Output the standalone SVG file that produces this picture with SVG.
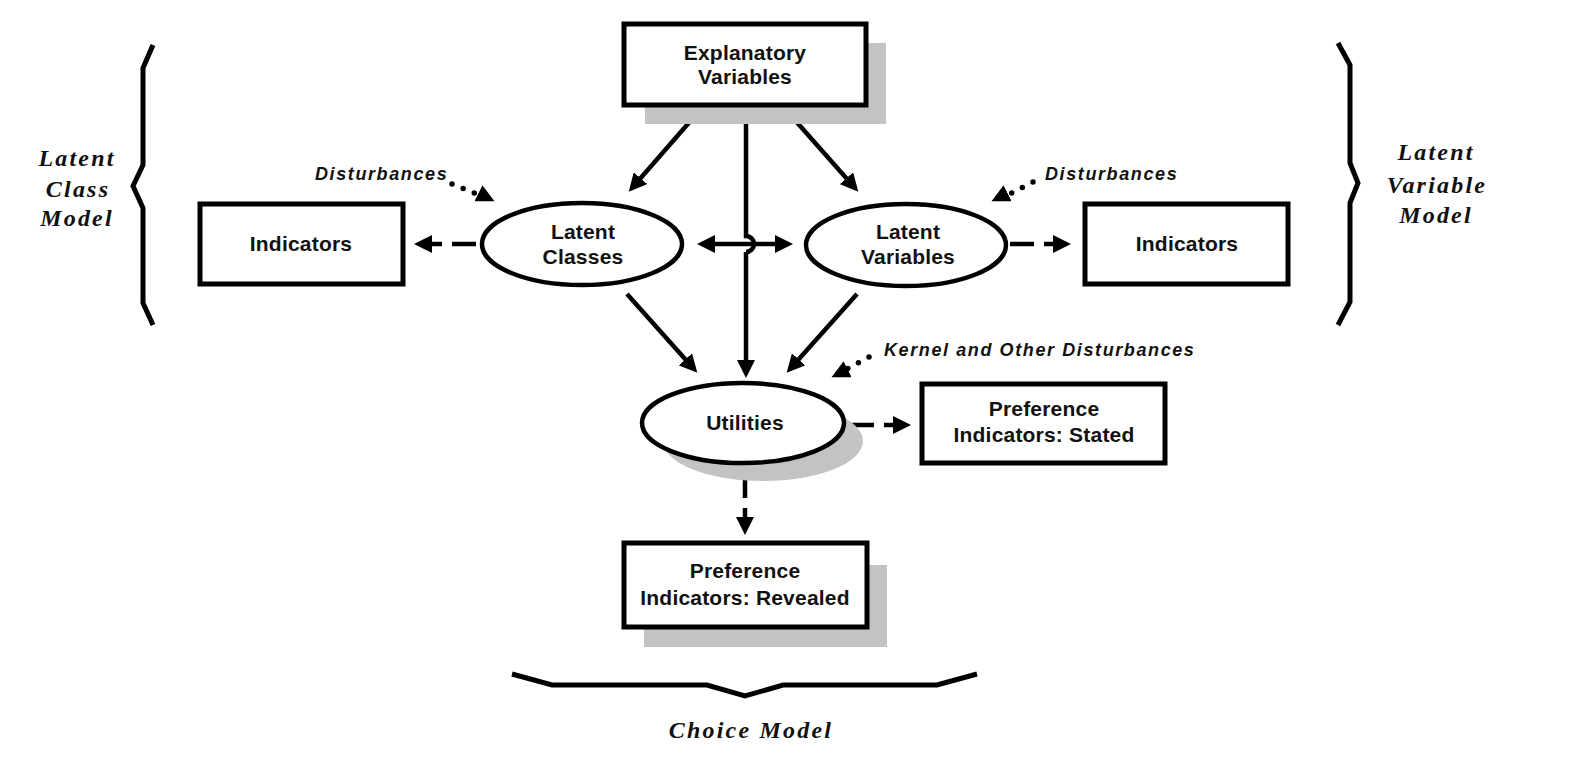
<svg xmlns="http://www.w3.org/2000/svg" width="1574" height="776" viewBox="0 0 1574 776">
<style>
.box{fill:#fff;stroke:#000;stroke-width:5}
.ell{fill:#fff;stroke:#000;stroke-width:4.5}
.sh{fill:#c3c3c3;stroke:none}
.lbl{font-family:"Liberation Sans",Arial,sans-serif;font-weight:bold;font-size:21px;letter-spacing:0.2px;fill:#111;text-anchor:middle}
.dist{font-family:"Liberation Sans",Arial,sans-serif;font-weight:bold;font-style:italic;font-size:18px;letter-spacing:1.6px;fill:#111}
.ser{font-family:"Liberation Serif","Times New Roman",serif;font-weight:bold;font-style:italic;font-size:24px;letter-spacing:2.2px;fill:#111;text-anchor:middle}
.ln{fill:none;stroke:#000;stroke-width:4.5}
.dash{fill:none;stroke:#000;stroke-width:4.5;stroke-dasharray:24 10}
.dot{fill:none;stroke:#000;stroke-width:5.5;stroke-linecap:round;stroke-dasharray:0 12}
.brace{fill:none;stroke:#000;stroke-width:5;stroke-linejoin:miter}
</style>
<defs>
<marker id="ah" markerUnits="userSpaceOnUse" markerWidth="20" markerHeight="18" refX="13" refY="9" orient="auto-start-reverse">
<path d="M0,0 L18,9 L0,18 z" fill="#000"/>
</marker>
</defs>
<rect width="1574" height="776" fill="#fff"/>

<g id="brace-left">
<path class="brace" d="M153,45 L143,68 L143,165 L133,186 L143,208 L143,303 L153,325"/>
<text class="ser" x="77" y="166">Latent</text>
<text class="ser" x="78" y="197">Class</text>
<text class="ser" x="77" y="226">Model</text>
</g>
<g id="brace-right">
<path class="brace" d="M1338,43 L1350,65 L1350,163 L1358,183 L1350,203 L1350,302 L1338,325"/>
<text class="ser" x="1436" y="160">Latent</text>
<text class="ser" x="1437" y="193">Variable</text>
<text class="ser" x="1436" y="223">Model</text>
</g>
<g id="brace-choice">
<path class="brace" d="M512,674 L552,685 L707,685 L745,696 L783,685 L937,685 L977,674"/>
<text class="ser" x="751" y="738">Choice Model</text>
</g>

<g id="connectors">
<line class="ln" x1="700" y1="110" x2="632" y2="188" marker-end="url(#ah)"/>
<line class="ln" x1="786" y1="110" x2="855" y2="188" marker-end="url(#ah)"/>
<path class="ln" d="M746,107 V236 A8,8 0 0 1 746,252"/>
<line class="ln" x1="746" y1="252" x2="746" y2="373" marker-end="url(#ah)"/>
<line class="ln" x1="627" y1="294" x2="694" y2="369" marker-end="url(#ah)"/>
<line class="ln" x1="857" y1="294" x2="790" y2="369" marker-end="url(#ah)"/>
<line class="ln" x1="702" y1="244" x2="788" y2="244" marker-start="url(#ah)" marker-end="url(#ah)"/>
<line class="dash" x1="476" y1="244" x2="419" y2="244" marker-end="url(#ah)"/>
<line class="dash" x1="1010" y1="244" x2="1066" y2="244" marker-end="url(#ah)"/>
<line class="dash" x1="850" y1="425" x2="906" y2="425" marker-end="url(#ah)"/>
<line class="dash" x1="745" y1="474" x2="745" y2="530" marker-end="url(#ah)"/>
<line class="dot" x1="452" y1="184" x2="482" y2="196"/>
<line class="ln" x1="486" y1="197" x2="490" y2="199" marker-end="url(#ah)"/>
<line class="dot" x1="1033" y1="182" x2="1006" y2="196"/>
<line class="ln" x1="1000" y1="197" x2="996" y2="199" marker-end="url(#ah)"/>
<line class="dot" x1="869" y1="357" x2="843" y2="371"/>
<line class="ln" x1="840" y1="373" x2="836" y2="375" marker-end="url(#ah)"/>
</g>

<g id="explanatory">
<rect class="sh" x="645" y="43" width="241" height="81"/>
<rect class="box" x="624" y="24" width="242" height="81"/>
<text class="lbl" x="745" y="60">Explanatory</text>
<text class="lbl" x="745" y="84">Variables</text>
</g>
<g id="indicators-left">
<rect class="box" x="200" y="204" width="203" height="80"/>
<text class="lbl" x="301" y="251">Indicators</text>
</g>
<g id="latent-classes">
<ellipse class="ell" cx="582" cy="244" rx="100" ry="41"/>
<text class="lbl" x="583" y="239">Latent</text>
<text class="lbl" x="583" y="264">Classes</text>
</g>
<g id="latent-variables">
<ellipse class="ell" cx="906" cy="245" rx="100" ry="41"/>
<text class="lbl" x="908" y="239">Latent</text>
<text class="lbl" x="908" y="264">Variables</text>
</g>
<g id="indicators-right">
<rect class="box" x="1085" y="204" width="203" height="80"/>
<text class="lbl" x="1187" y="251">Indicators</text>
</g>
<g id="utilities">
<ellipse class="sh" cx="763" cy="441" rx="100" ry="40"/>
<ellipse class="ell" cx="743" cy="423" rx="101" ry="40"/>
<text class="lbl" x="745" y="430">Utilities</text>
</g>
<g id="stated">
<rect class="box" x="922" y="384" width="243" height="79"/>
<text class="lbl" x="1044" y="416">Preference</text>
<text class="lbl" x="1044" y="442">Indicators: Stated</text>
</g>
<g id="revealed">
<rect class="sh" x="644" y="565" width="243" height="82"/>
<rect class="box" x="624" y="543" width="243" height="84"/>
<text class="lbl" x="745" y="578">Preference</text>
<text class="lbl" x="745" y="605">Indicators: Revealed</text>
</g>

<g id="labels">
<text class="dist" x="315" y="180">Disturbances</text>
<text class="dist" x="1045" y="180">Disturbances</text>
<text class="dist" x="884" y="356">Kernel and Other Disturbances</text>
</g>
</svg>
